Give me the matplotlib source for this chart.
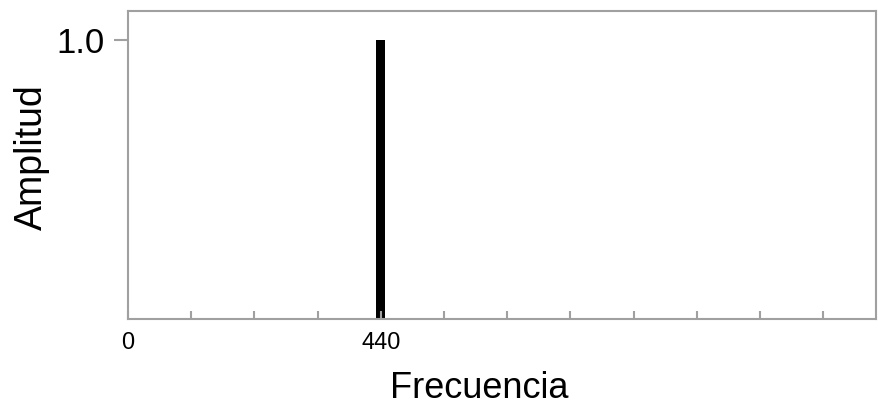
import matplotlib.pyplot as plt
import numpy as np

plt.rcParams["font.family"] = ["Liberation Sans", "DejaVu Sans"]

# datos del espectro
frecuencias = [440]
amplitudes = [1.0]
tick_paso = 110
xtick_labels = {0: "0", 440: "440"}

gris = "#a0a0a0"

fig = plt.figure(figsize=(8.79, 4.09), dpi=100)
ax = fig.add_axes([0.1456, 0.22, 0.851, 0.753])

ax.bar(frecuencias, amplitudes, width=15, color="black")

ax.set_xlim(0, 1302)
ax.set_ylim(0, 1.104)

ticks = np.arange(0, 1300, tick_paso)
ax.set_xticks(ticks)
ax.set_xticklabels([xtick_labels.get(int(t), "") for t in ticks], fontsize=17)
ax.tick_params(axis="x", direction="in", length=6, width=1.5, color=gris, pad=9)

ax.set_yticks([1.0])
ax.set_yticklabels(["1.0"], fontsize=25)
ax.tick_params(axis="y", direction="out", length=10, width=1.5, color=gris, pad=7)

for s in ax.spines.values():
    s.set_color(gris)
    s.set_linewidth(1.5)

ax.set_xlabel("Frecuencia", fontsize=26, va="center")
ax.xaxis.set_label_coords(0.47, -0.227)
ax.set_ylabel("Amplitud", fontsize=27, va="center")
ax.yaxis.set_label_coords(-0.128, 0.526)

fig.savefig("out.png", dpi=100)
